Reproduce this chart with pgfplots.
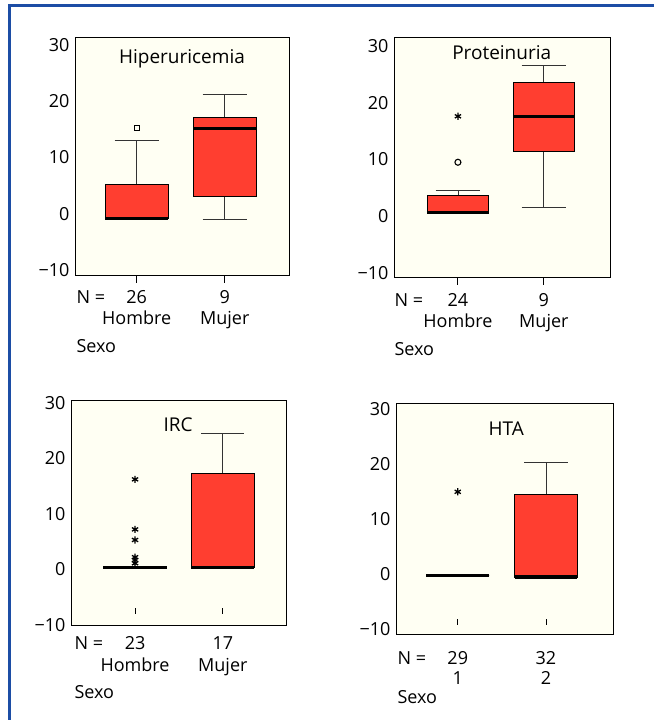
\documentclass[border=0pt]{standalone}
\usepackage{fontspec}
\setmainfont{Open Sans}
\usepackage{pgfplots}
\pgfplotsset{compat=1.18}
\usepgfplotslibrary{statistics}
\definecolor{boxred}{RGB}{255,62,48}
\definecolor{plotbg}{RGB}{255,255,243}
\definecolor{borderblue}{RGB}{28,77,165}
\newcommand\lbl{\fontsize{18bp}{21bp}\selectfont}
\newcommand\ttl{\fontsize{19bp}{22bp}\selectfont}
\pgfplotsset{
  bp/.style={
    scale only axis, clip=false,
    axis background/.style={fill=plotbg},
    axis line style={line width=1bp, black},
    ytick={-10,0,10,20,30},
    yticklabels={−10,0,10,20,30},
    yticklabel style={font=\lbl, xshift=-2bp},
    ytick style={draw=none},
    xtick={1,2}, xticklabels={,},
    tick pos=left,
    major tick length=6bp,
    boxplot/draw direction=y,
    boxplot/every box/.style={fill=boxred, draw=black, line width=0.8bp},
    boxplot/every median/.style={line width=3.2bp, black},
    boxplot/every whisker/.style={black!80, line width=0.8bp},
  },
  outstar/.style={only marks, mark=asterisk, mark size=3.6bp, black, line width=1.3bp},
  outcirc/.style={only marks, mark=o, mark size=3bp, black, line width=1.1bp},
  outsq/.style={only marks, mark=square, mark size=2.6bp, black, line width=1bp},
  outtick/.style={only marks, mark=|, mark size=3.5bp, black, line width=1bp,
    mark options={yshift=-4bp}},
}
\begin{document}
\begin{tikzpicture}
\useasboundingbox (0bp,0bp) rectangle (654bp,720bp);
\fill[white] (0bp,0bp) rectangle (654bp,720bp);
\draw[line width=3bp, borderblue] (9bp,0bp) -- (9bp,714bp) -- (654bp,714bp);

% Panel 1: Hiperuricemia
\begin{axis}[bp, at={(75bp,444bp)}, anchor=south west, width=214bp, height=238bp,
  xmin=0.30, xmax=2.73, ymin=-11, ymax=31.2, xtick style={draw=none}]
\addplot[boxplot prepared={draw position=1, median=-0.8, lower quartile=-0.8,
  upper quartile=5.3, lower whisker=-0.8, upper whisker=13.1,
  box extend=0.71, whisker extend=0.5}] coordinates {};
\addplot[boxplot prepared={draw position=2, median=15.2, lower quartile=3.2,
  upper quartile=17.2, lower whisker=-0.9, upper whisker=21.2,
  box extend=0.71, whisker extend=0.5}] coordinates {};
\addplot[outsq] coordinates {(1,15.2)};
\addplot[outtick] coordinates {(1,-11) (2,-11)};
\node[font=\ttl, anchor=base] at (axis cs:1.515,31.2) [yshift=-26bp] {Hiperuricemia};
\node[font=\lbl, anchor=base west] at (axis cs:0.30,-11) [xshift=-2bp,yshift=-28bp] {N =};
\node[font=\lbl, anchor=base] at (axis cs:1,-11) [yshift=-28bp] {26};
\node[font=\lbl, anchor=base] at (axis cs:2,-11) [yshift=-28bp] {9};
\node[font=\lbl, anchor=base] at (axis cs:1,-11) [yshift=-49bp] {Hombre};
\node[font=\lbl, anchor=base] at (axis cs:2,-11) [yshift=-49bp] {Mujer};
\node[font=\lbl, anchor=base west] at (axis cs:0.30,-11) [xshift=-2bp,yshift=-77bp] {Sexo};
\end{axis}

% Panel 2: Proteinuria
\begin{axis}[bp, at={(394bp,442bp)}, anchor=south west, width=216bp, height=240bp,
  xmin=0.256, xmax=2.77, ymin=-10.9, ymax=31.4, xtick style={draw=none}]
\addplot[boxplot prepared={draw position=1, median=0.6, lower quartile=0.5,
  upper quartile=3.7, lower whisker=0.5, upper whisker=4.6,
  box extend=0.72, whisker extend=0.52}] coordinates {};
\addplot[boxplot prepared={draw position=2, median=17.6, lower quartile=11.5,
  upper quartile=23.5, lower whisker=1.6, upper whisker=26.5,
  box extend=0.72, whisker extend=0.52}] coordinates {};
\addplot[outcirc] coordinates {(1,9.5)};
\addplot[outstar] coordinates {(1,17.6)};
\addplot[outtick] coordinates {(1,-10.9) (2,-10.9)};
\node[font=\ttl, anchor=base] at (axis cs:1.51,31.4) [yshift=-22bp] {Proteinuria};
\node[font=\lbl, anchor=base west] at (axis cs:0.256,-10.9) [xshift=-3bp,yshift=-29bp] {N =};
\node[font=\lbl, anchor=base] at (axis cs:1,-10.9) [yshift=-29bp] {24};
\node[font=\lbl, anchor=base] at (axis cs:2,-10.9) [yshift=-29bp] {9};
\node[font=\lbl, anchor=base] at (axis cs:1,-10.9) [yshift=-50bp] {Hombre};
\node[font=\lbl, anchor=base] at (axis cs:2,-10.9) [yshift=-50bp] {Mujer};
\node[font=\lbl, anchor=base west] at (axis cs:0.256,-10.9) [xshift=-3bp,yshift=-78bp] {Sexo};
\end{axis}

% Panel 3: IRC
\begin{axis}[bp, at={(71bp,95bp)}, anchor=south west, width=215bp, height=224bp,
  xmin=0.27, xmax=2.72, ymin=-10, ymax=30.3,
  xtick style={black, line width=0.9bp, yshift=11bp}]
\addplot[boxplot prepared={draw position=1, median=0.4, lower quartile=0.4,
  upper quartile=0.4, lower whisker=0.4, upper whisker=0.4,
  box extend=0.72, whisker extend=0.49}] coordinates {};
\addplot[boxplot prepared={draw position=2, median=0.3, lower quartile=0.3,
  upper quartile=17.3, lower whisker=0.3, upper whisker=24.5,
  box extend=0.72, whisker extend=0.49}] coordinates {};
\addplot[outstar] coordinates {(1,16.2) (1,7.2) (1,5.3) (1,2.2) (1,1.7) (1,1.1)};
\node[font=\ttl, anchor=base] at (axis cs:1.49,30.3) [yshift=-31bp] {IRC};
\node[font=\lbl, anchor=base west] at (axis cs:0.27,-10) [yshift=-24bp] {N =};
\node[font=\lbl, anchor=base] at (axis cs:1,-10) [yshift=-24bp] {23};
\node[font=\lbl, anchor=base] at (axis cs:2,-10) [yshift=-24bp] {17};
\node[font=\lbl, anchor=base] at (axis cs:1,-10) [yshift=-46bp] {Hombre};
\node[font=\lbl, anchor=base] at (axis cs:2,-10) [yshift=-46bp] {Mujer};
\node[font=\lbl, anchor=base west] at (axis cs:0.27,-10) [yshift=-73bp] {Sexo};
\end{axis}

% Panel 4: HTA
\begin{axis}[bp, at={(396bp,86bp)}, anchor=south west, width=217bp, height=230bp,
  xmin=0.30, xmax=2.76, ymin=-10.9, ymax=31,
  xtick style={black, line width=0.9bp, yshift=9bp}]
\addplot[boxplot prepared={draw position=1, median=-0.3, lower quartile=-0.3,
  upper quartile=-0.3, lower whisker=-0.3, upper whisker=-0.3,
  box extend=0.71, whisker extend=0.49}] coordinates {};
\addplot[boxplot prepared={draw position=2, median=-0.5, lower quartile=-0.5,
  upper quartile=14.6, lower whisker=-0.5, upper whisker=20.4,
  box extend=0.71, whisker extend=0.49}] coordinates {};
\addplot[outstar] coordinates {(1,15.0)};
\node[font=\ttl, anchor=base] at (axis cs:1.55,31) [yshift=-32bp] {HTA};
\node[font=\lbl, anchor=base west] at (axis cs:0.30,-10.9) [xshift=-2bp,yshift=-30bp] {N =};
\node[font=\lbl, anchor=base] at (axis cs:1,-10.9) [yshift=-30bp] {29};
\node[font=\lbl, anchor=base] at (axis cs:2,-10.9) [yshift=-30bp] {32};
\node[font=\lbl, anchor=base] at (axis cs:1,-10.9) [yshift=-50bp] {1};
\node[font=\lbl, anchor=base] at (axis cs:2,-10.9) [yshift=-50bp] {2};
\node[font=\lbl, anchor=base west] at (axis cs:0.30,-10.9) [xshift=-2bp,yshift=-69bp] {Sexo};
\end{axis}
\end{tikzpicture}
\end{document}
